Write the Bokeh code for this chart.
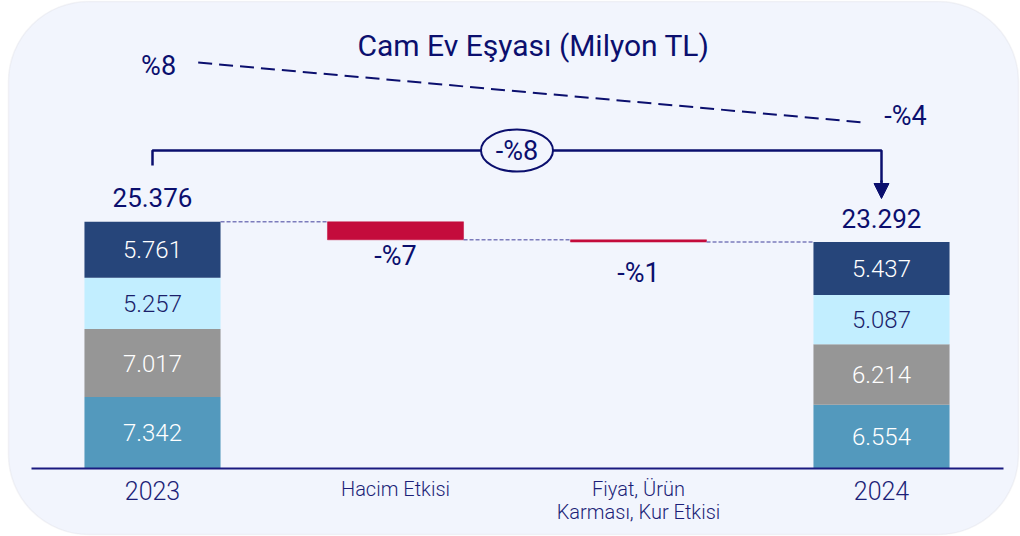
from bokeh.plotting import figure
from bokeh.models import Range1d, BoxAnnotation, Arrow, NormalHead, ColumnDataSource
from bokeh.core.properties import value
from bokeh.embed import file_html
from bokeh.resources import INLINE

# ---------------- data ----------------
title = "Cam Ev Eşyası (Milyon TL)"
categories = ["2023", "Hacim Etkisi", "Fiyat, Ürün\nKarması, Kur Etkisi", "2024"]
seg_2023 = [7342, 7017, 5257, 5761]          # bottom -> top
seg_2024 = [6554, 6214, 5087, 5437]
totals = [25376, 23292]
effects = [-1850, -234]                       # Hacim, Fiyat/Ürün/Kur
trend_labels = ["%8", "-%4"]

seg_colors = ["#5399BD", "#969696", "#C2EEFF", "#26457A"]
seg_text_colors = ["white", "white", "#1B1F6B", "white"]
red = "#C40C3C"
navy = "#0B0F6E"
bg = "#F2F5FD"
FONT = value("Roboto")
LIGHT = value("Roboto Light")

def fmt(v):
    return f"{v:,}".replace(",", ".")

# ---------------- scales ----------------
PX = 243.0          # pixels per category step
U = 102.86          # data units per pixel (vertical)
W, H = 1020, 536
x0 = -152 / PX
y0 = -(H - 468) * U
p = figure(width=W, height=H, output_backend="svg", toolbar_location=None,
           x_range=Range1d(x0, x0 + W / PX), y_range=Range1d(y0, y0 + H * U),
           x_axis_location=None, y_axis_location=None, min_border=0)
p.grid.visible = False
p.outline_line_color = None
p.background_fill_color = "white"
p.border_fill_color = "white"

def sy(px_from_top):
    return (468 - px_from_top) * U

# rounded background panel
p.add_layout(BoxAnnotation(left=x0 + 8 / PX, right=x0 + 1018 / PX,
                           bottom=sy(534), top=sy(1),
                           border_radius=80, fill_color=bg, fill_alpha=1,
                           line_color="#D9DBE0", line_width=1.5, level="underlay"))

BW = 0.56
total_2023, total_2024 = totals

# stacked bars
def stack(x, segs):
    bottoms, tops = [], []
    acc = 0
    for s in segs:
        bottoms.append(acc)
        acc += s
        tops.append(acc)
    return dict(x=[x] * len(segs), bottom=bottoms, top=tops,
                mid=[(b + t) / 2 for b, t in zip(bottoms, tops)],
                color=seg_colors, tcolor=seg_text_colors,
                label=[fmt(s) for s in segs])

for xi, segs in ((0, seg_2023), (3, seg_2024)):
    src = ColumnDataSource(stack(xi, segs))
    p.vbar(x="x", width=BW, bottom="bottom", top="top", fill_color="color",
           line_color=None, source=src)
    p.text(x="x", y="mid", text="label", text_color="tcolor", text_font=LIGHT,
           text_font_size="24px", text_align="center", text_baseline="middle",
           source=src)

# effect bars (floating)
levels = [total_2023]
for e in effects:
    levels.append(levels[-1] + e)
eff_src = ColumnDataSource(dict(x=[1, 2], top=levels[:2], bottom=levels[1:]))
p.vbar(x="x", width=BW, top="top", bottom="bottom", fill_color=red,
       line_color=red, line_width=0.5, source=eff_src)

# percent labels under effect bars
pct = [f"-%{round(abs(e) / total_2023 * 100)}" for e in effects]
pct_off = [1700, 3150]
p.text(x=[1, 2], y=[b - o for b, o in zip(levels[1:], pct_off)], text=pct,
       text_color=navy, text_font=FONT, text_font_size="27px",
       text_align="center", text_baseline="middle")

# dashed connectors
conn_x0 = [0 + BW / 2, 1 + BW / 2, 2 + BW / 2]
conn_x1 = [1 - BW / 2, 2 - BW / 2, 3 - BW / 2]
conn_y = [total_2023, levels[1], total_2024]
p.segment(x0=conn_x0, y0=conn_y, x1=conn_x1, y1=conn_y, line_color="#7C7CBC",
          line_width=1.5, line_dash="4 2")

# totals above bars
p.text(x=[0, 3], y=[total_2023 + 2480, total_2024 + 2450],
       text=[fmt(total_2023), fmt(total_2024)], text_color=navy, text_font=FONT,
       text_font_size="26px", text_align="center", text_baseline="middle")

# baseline axis line
p.segment(x0=[x0 + 31 / PX], y0=[0], x1=[x0 + 1003 / PX], y1=[0],
          line_color="#1A1A80", line_width=2)

# category labels
p.text(x=[0, 1, 2, 3], y=[-700 - 6 * U, -700 - 2 * U, -700 - 2 * U, -700 - 6 * U],
       text=categories, text_color="#1C1F78",
       text_font=LIGHT, text_font_size=["25px", "20px", "20px", "25px"],
       text_align="center", text_baseline="top", text_line_height=0.95)

# bracket with total change
by = sy(150)
p.line(x=[0, 0, 3, 3], y=[sy(165), by, by, sy(182)], line_color=navy, line_width=2.5)
p.add_layout(Arrow(x_start=3, y_start=sy(180), x_end=3, y_end=sy(198),
                   line_color=navy, line_width=2.5,
                   end=NormalHead(size=15, fill_color=navy, line_color=navy)))
p.ellipse(x=[1.5], y=[by], width=72, height=42, width_units="screen",
          height_units="screen", fill_color=bg, line_color=navy, line_width=2)
change = round((total_2024 - total_2023) / total_2023 * 100)
p.text(x=[1.5], y=[by], text=[f"-%{abs(change)}"], text_color=navy,
       text_font=FONT, text_font_size="27px", text_align="center",
       text_baseline="middle")

# dashed trend line with growth labels
p.line(x=[0.188, 2.914], y=[sy(62), sy(121.7)], line_color=navy, line_width=2,
       line_dash="14 7")
p.text(x=[0.025, 3.099], y=[sy(65), sy(115)], text=trend_labels, text_color=navy,
       text_font=FONT, text_font_size="27px", text_align="center",
       text_baseline="middle")

# title
p.text(x=[1.568], y=[sy(45)], text=[title], text_color=navy, text_font=FONT,
       text_font_size="30px", text_align="center", text_baseline="middle")

open("out.html", "w").write(file_html(p, INLINE))
